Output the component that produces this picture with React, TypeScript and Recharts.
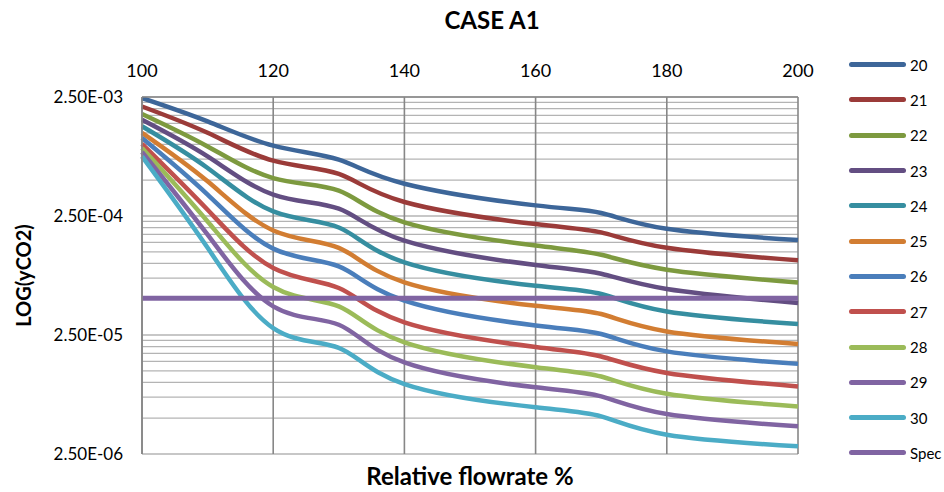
import { LineChart, Line, XAxis, YAxis, CartesianGrid } from 'recharts'

const font = 'Lato, "Open Sans", sans-serif'

// relative flowrate (%)
const flowrate = [100, 110, 120, 130, 140, 160, 170, 180, 200]

// yCO2 for each case
const s20 = [2.45e-3, 1.56e-3, 9.75e-4, 7.43e-4, 4.67e-4, 3.07e-4, 2.65e-4, 1.95e-4, 1.57e-4]
const s21 = [2.08e-3, 1.25e-3, 7.29e-4, 5.64e-4, 3.28e-4, 2.14e-4, 1.82e-4, 1.35e-4, 1.06e-4]
const s22 = [1.8e-3, 9.61e-4, 5.21e-4, 4.08e-4, 2.21e-4, 1.41e-4, 1.18e-4, 8.85e-5, 6.92e-5]
const s23 = [1.61e-3, 7.92e-4, 3.78e-4, 2.88e-4, 1.55e-4, 9.68e-5, 8.18e-5, 6.09e-5, 4.64e-5]
const s24 = [1.42e-3, 6.33e-4, 2.73e-4, 2.0e-4, 1.02e-4, 6.49e-5, 5.53e-5, 3.94e-5, 3.09e-5]
const s25 = [1.25e-3, 4.89e-4, 1.89e-4, 1.35e-4, 6.92e-5, 4.41e-5, 3.75e-5, 2.68e-5, 2.1e-5]
const s26 = [1.13e-3, 3.78e-4, 1.33e-4, 9.42e-5, 4.86e-5, 3.01e-5, 2.55e-5, 1.82e-5, 1.43e-5]
const s27 = [1.01e-3, 2.82e-4, 9.14e-5, 6.21e-5, 3.19e-5, 1.98e-5, 1.65e-5, 1.2e-5, 9.25e-6]
const s28 = [9.32e-4, 2.25e-4, 6.33e-5, 4.35e-5, 2.17e-5, 1.34e-5, 1.12e-5, 8.03e-6, 6.28e-6]
const s29 = [8.63e-4, 1.74e-4, 4.35e-5, 3.05e-5, 1.47e-5, 9.08e-6, 7.62e-6, 5.42e-6, 4.27e-6]
const s30 = [7.92e-4, 1.35e-4, 2.86e-5, 1.95e-5, 9.68e-6, 6.17e-6, 5.18e-6, 3.63e-6, 2.9e-6]
const spec = [5.1e-5, 5.1e-5, 5.1e-5, 5.1e-5, 5.1e-5, 5.1e-5, 5.1e-5, 5.1e-5, 5.1e-5]

const seriesNames = ['20', '21', '22', '23', '24', '25', '26', '27', '28', '29', '30', 'Spec']
const seriesValues = [s20, s21, s22, s23, s24, s25, s26, s27, s28, s29, s30, spec]
const colors = ['#3d6699', '#9b3b39', '#7d9a3f', '#634e82', '#368ea0', '#d27d32', '#4a7ebb', '#c0504d', '#9bbb59', '#8064a2', '#4bacc6', '#8064a2']

const xTicks = [100, 120, 140, 160, 180, 200]
const yTicks = [
  2.5e-6, 5e-6, 7.5e-6, 1e-5, 1.25e-5, 1.5e-5, 1.75e-5, 2e-5, 2.25e-5,
  2.5e-5, 5e-5, 7.5e-5, 1e-4, 1.25e-4, 1.5e-4, 1.75e-4, 2e-4, 2.25e-4,
  2.5e-4, 5e-4, 7.5e-4, 1e-3, 1.25e-3, 1.5e-3, 1.75e-3, 2e-3, 2.25e-3,
  2.5e-3,
]
const yMajor = [2.5e-6, 2.5e-5, 2.5e-4, 2.5e-3]
const yMajorLabels = ['2.50E-06', '2.50E-05', '2.50E-04', '2.50E-03']

const data = flowrate.map((x, i) => {
  const row: Record<string, number> = { x }
  seriesNames.forEach((n, k) => {
    row[n] = seriesValues[k][i]
  })
  return row
})

const formatY = (v: number) => {
  const k = yMajor.findIndex((m) => Math.abs(v - m) / m < 1e-6)
  return k >= 0 ? yMajorLabels[k] : ''
}

const renderYLabel = (props: any) => {
  const vb = props.viewBox
  const cy = vb.y + vb.height / 2
  return (
    <text
      x={23}
      y={cy}
      transform={`rotate(-90, 23, ${cy})`}
      textAnchor="middle"
      dominantBaseline="central"
      fontFamily={font}
      fontWeight="bold"
      fontSize={20}
      fill="#000"
    >
      LOG(yCO2)
    </text>
  )
}

function SeriesLegend() {
  return (
    <div style={{ position: 'absolute', left: 849, top: 47, width: 95, fontFamily: font, fontSize: 15, color: '#000' }}>
      {seriesNames.map((n, k) => (
        <div key={n} style={{ height: 35.3, display: 'flex', alignItems: 'center', whiteSpace: 'nowrap' }}>
          <span style={{ display: 'inline-block', width: 57, height: 5, borderRadius: 3, background: colors[k] }} />
          <span style={{ marginLeft: 4 }}>{n}</span>
        </div>
      ))}
    </div>
  )
}

export default function App() {
  return (
    <div style={{ position: 'absolute', left: 0, top: 0, width: 944, height: 492, overflow: 'hidden', background: '#fff' }}>
      <div style={{ position: 'absolute', top: 5, left: 0, width: 984, textAlign: 'center', fontFamily: font, fontWeight: 'bold', fontSize: 24 }}>
        CASE A1
      </div>
      <div style={{ position: 'absolute', top: 461, left: 0, width: 940, textAlign: 'center', fontFamily: font, fontWeight: 'bold', fontSize: 24 }}>
        Relative flowrate %
      </div>
      <LineChart width={944} height={492} data={data} margin={{ top: 37, right: 146, bottom: 38, left: 0 }}>
        <CartesianGrid vertical={false} stroke="#b4b4b4" strokeWidth={1.3} />
        <CartesianGrid horizontal={false} stroke="#878787" strokeWidth={1.6} />
        <XAxis
          dataKey="x"
          type="number"
          domain={[100, 200]}
          ticks={xTicks}
          orientation="top"
          height={60}
          axisLine={{ stroke: '#878787', strokeWidth: 1.6 }}
          tickLine={false}
          tickMargin={14}
          tick={{ fill: '#000', fontSize: 18, fontFamily: font }}
          interval={0}
        />
        <YAxis
          type="number"
          scale="log"
          domain={[2.5e-6, 2.5e-3]}
          ticks={yTicks}
          allowDataOverflow
          interval={0}
          width={142}
          axisLine={{ stroke: '#878787', strokeWidth: 1.6 }}
          tickLine={false}
          tickMargin={13}
          tickFormatter={formatY}
          tick={{ fill: '#000', fontSize: 17, fontFamily: font }}
          label={{ content: renderYLabel }}
        />
        {seriesNames.map((n, k) => (
          <Line
            key={n}
            type="natural"
            dataKey={n}
            name={n}
            stroke={colors[k]}
            strokeWidth={n === 'Spec' ? 5 : 4.5}
            dot={false}
            activeDot={false}
            isAnimationActive={false}
          />
        ))}
      </LineChart>
      <SeriesLegend />
    </div>
  )
}
